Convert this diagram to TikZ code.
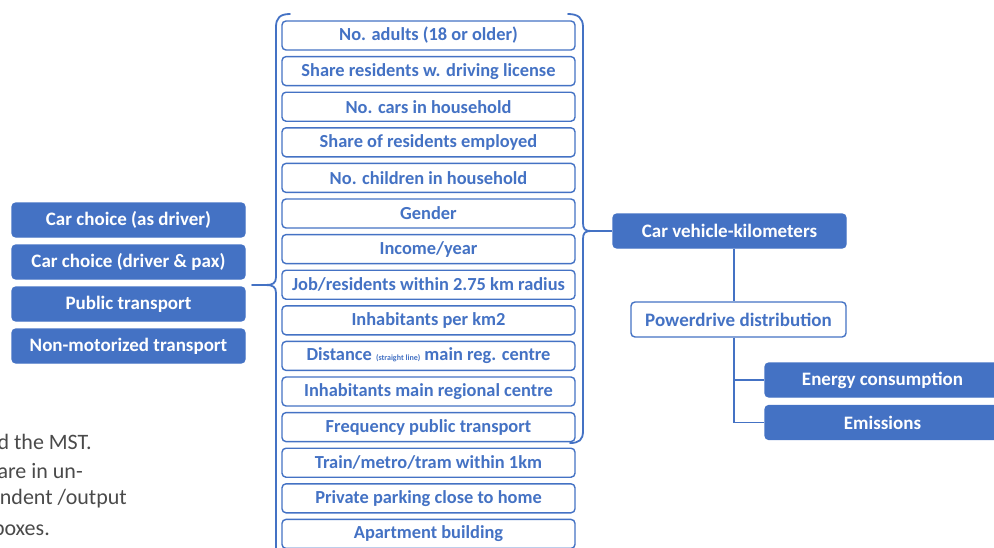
\documentclass[tikz,border=0pt]{standalone}
\usepackage{fontspec}
\setmainfont{Carlito}
\usetikzlibrary{calc}
\definecolor{officeblue}{HTML}{4472C4}
\definecolor{bodygray}{HTML}{4A4A4A}

\begin{document}
\begin{tikzpicture}[x=1pt,y=-1pt,
  factor/.style={draw=officeblue, line width=1.4pt, rounded corners=4pt, fill=white,
    minimum width=293pt, minimum height=29pt, inner sep=0pt, text=officeblue,
    font=\fontsize{18.4}{20}\selectfont\bfseries},
  outcome/.style={draw=officeblue, line width=1.4pt, rounded corners=4pt, fill=officeblue,
    minimum height=34pt, inner sep=0pt, text=white,
    font=\fontsize{19}{21}\selectfont\bfseries},
  stage/.style={draw=officeblue, line width=1.4pt, rounded corners=4pt, fill=white,
    minimum height=35pt, inner sep=0pt, text=officeblue,
    font=\fontsize{19}{21}\selectfont\bfseries},
  link/.style={draw=officeblue, line width=1.6pt},
  bracket/.style={draw=officeblue, line width=1.8pt, line cap=round},
  bodytext/.style={anchor=east, inner sep=0pt, text=bodygray,
    font=\fontsize{22}{24}\selectfont}]

\useasboundingbox (0,0) rectangle (994,547);
\clip (0,0) rectangle (994,547);

% mode choice outcomes (left column)
\node[outcome, minimum width=233pt] (m1) at (128.5,220) {Car choice (as driver)};
\node[outcome, minimum width=233pt] (m2) at (128.5,262) {Car choice (driver \& pax)};
\node[outcome, minimum width=233pt] (m3) at (128.5,304) {Public transport};
\node[outcome, minimum width=233pt] (m4) at (128.5,346) {Non-motorized transport};

% explanatory variables (middle column)
\foreach \i/\t in {1/{No. adults (18 or older)},
                   2/{Share residents w. driving license},
                   3/{No. cars in household},
                   4/{Share of residents employed},
                   5/{No. children in household},
                   6/{Gender},
                   7/{Income/year},
                   8/{Job/residents within 2.75 km radius},
                   9/{Inhabitants per km2},
                   10/{Distance {\fontsize{8}{9}\selectfont(straight line)} main reg. centre},
                   11/{Inhabitants main regional centre},
                   12/{Frequency public transport},
                   13/{Train/metro/tram within 1km},
                   14/{Private parking close to home},
                   15/{Apartment building}}
  \node[factor] (f\i) at (428.5,{35.5+35.6*(\i-1)}) {\t};

% left brace spanning all variables
\draw[bracket] (290,14) .. controls (280,14) and (276,18) .. (276,27)
  -- (276,277) .. controls (276,283) and (273,285) .. (266,285)
  .. controls (273,285) and (276,287) .. (276,293) -- (276,560);
\draw[bracket] (266,285) -- (252,285);

% right brace spanning the first twelve variables
\draw[bracket] (568,14) .. controls (578,14) and (583,18) .. (583,27)
  -- (583,223) .. controls (583,229) and (585,231) .. (591,231)
  .. controls (585,231) and (583,233) .. (583,239)
  -- (583,431) .. controls (583,440) and (579,443) .. (570,443);

% car use chain (right side)
\node[outcome, minimum width=233pt] (cvk) at (729.5,231) {Car vehicle-kilometers};
\node[stage, minimum width=215pt] (pd) at (738.5,319.5) {Powerdrive distribution};
\node[outcome, minimum width=235pt] (en) at (882.5,380) {Energy consumption};
\node[outcome, minimum width=235pt] (em) at (882.5,422.5) {Emissions};

\coordinate (tip) at (591,231);
\coordinate (spine) at (734,0);

\draw[link] (tip) -- (cvk.west);
\draw[link] (cvk.south -| spine) -- (pd.north -| spine);
\draw[link] (pd.south -| spine) |- (em.west);
\draw[link] (en.west -| spine) -- (en.west);

% running text at the page edge
\node[bodytext] (p1) at (92,442) {d the MST.};
\node[bodytext] (p2) at (83,471) {are in un-};
\node[bodytext] (p3) at (127,499) {ndent /output};
\node[bodytext] (p4) at (50,528) {boxes.};

\end{tikzpicture}
\end{document}
